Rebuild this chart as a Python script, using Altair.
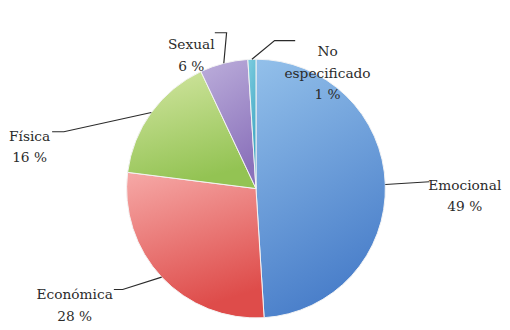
import altair as alt
import numpy as np
import pandas as pd

# ---- data ----
categories = ["Emocional", "Económica", "Física", "Sexual", "No especificado"]
label_names = ["Emocional", "Económica", "Física", "Sexual", "No\nespecificado"]
values = [49, 28, 16, 6, 1]
pct_labels = ["49 %", "28 %", "16 %", "6 %", "1 %"]

# ---- styles ----
colors_top = ["#93c0ea", "#f6a9a7", "#d3e6a2", "#bcaedb", "#7fcde0"]
colors_bottom = ["#4a7fca", "#de4c4a", "#93c353", "#8b72bb", "#3aa3c0"]

# ---- layout (page pixel coordinates) ----
W, H = 494, 314
OFF = 8
CX, CY, R = 258, 189, 132
label_pos = [(471, 186), (73, 298), (27, 136), (192, 43), (331, 50)]
leader_pts = [
    [(435, 182)],
    [(122, 292), (113, 292)],
    [(62, 131), (50, 131)],
    [(228, 30), (216, 30)],
    [(277, 38), (298, 38)],
]

total = sum(values)
cum = np.cumsum([0] + values)
t0 = cum[:-1] / total * 2 * np.pi
t1 = cum[1:] / total * 2 * np.pi
mid = (t0 + t1) / 2

pie_df = pd.DataFrame({"cat": categories, "t0": t0, "t1": t1})

xs = alt.Scale(domain=[0, W], range=[0, W])
ys = alt.Scale(domain=[0, H], range=[0, H])

layers = []
for i, c in enumerate(categories):
    grad = alt.Gradient(
        gradient="linear",
        stops=[alt.GradientStop(color=colors_top[i], offset=0),
               alt.GradientStop(color=colors_bottom[i], offset=1)],
        x1=0, y1=0, x2=0.3, y2=1,
    )
    layers.append(
        alt.Chart(pie_df)
        .transform_filter(alt.datum.cat == c)
        .mark_arc(radius=R, fill=grad, stroke="#f4f4f4", strokeWidth=1)
        .encode(
            theta=alt.Theta("t0:Q", scale=None),
            theta2="t1:Q",
            x=alt.value(CX - OFF),
            y=alt.value(CY - OFF),
        )
    )

# leader lines
rows = []
for i, c in enumerate(categories):
    sx = CX + R * np.sin(mid[i])
    sy = CY - R * np.cos(mid[i])
    pts = [(sx, sy)] + leader_pts[i]
    for k, (px, py) in enumerate(pts):
        rows.append({"cat": c, "seq": k, "x": px - OFF, "y": py - OFF})
line_df = pd.DataFrame(rows)

lines = alt.Chart(line_df).mark_line(color="#2b2b2b", strokeWidth=1.2).encode(
    x=alt.X("x:Q", scale=xs, axis=None),
    y=alt.Y("y:Q", scale=ys, axis=None),
    detail="cat:N",
    order="seq:Q",
)

text_df = pd.DataFrame({
    "cat": categories,
    "txt": [f"{n}\n{p}" for n, p in zip(label_names, pct_labels)],
    "x": [p[0] - OFF for p in label_pos],
    "y": [p[1] - OFF for p in label_pos],
})

texts = alt.Chart(text_df).mark_text(
    font="DejaVu Serif", fontSize=14, lineBreak="\n", lineHeight=22,
    align="center", baseline="middle", color="#2b2b2b",
).encode(
    x=alt.X("x:Q", scale=xs, axis=None),
    y=alt.Y("y:Q", scale=ys, axis=None),
    text="txt:N",
)

chart = alt.layer(*layers, lines, texts).properties(
    width=W, height=H, padding=0
).configure_view(stroke=None)

chart.save("out.html", embed_options={"renderer": "svg", "actions": False})
